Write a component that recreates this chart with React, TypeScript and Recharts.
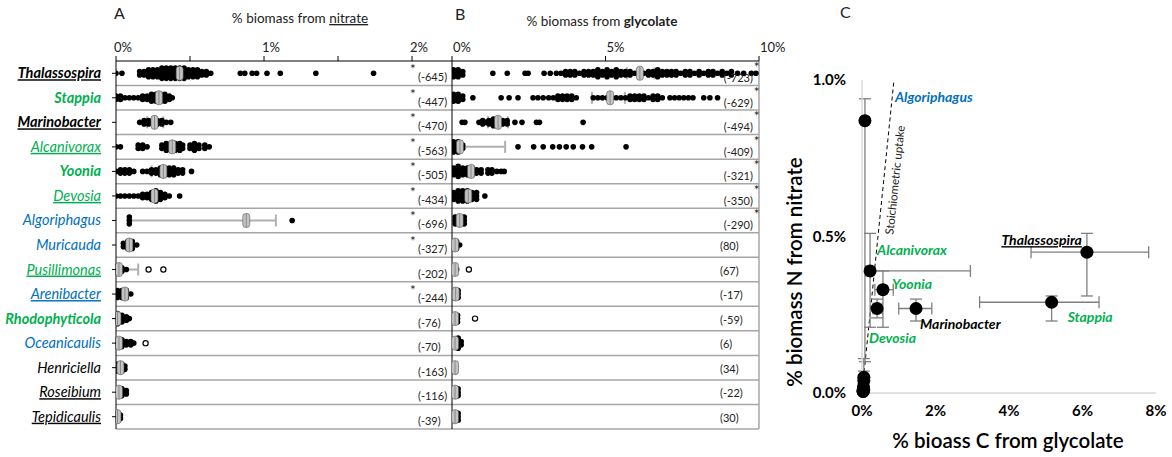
import React from "react";
import { ScatterChart, Scatter, XAxis, YAxis, ErrorBar, ReferenceLine, ReferenceDot } from "recharts";

const GREEN = "#00b050";
const BLUE = "#0070c0";
const FONT = "Lato, 'Open Sans', sans-serif";

// rows, top to bottom
const species = [
  "Thalassospira", "Stappia", "Marinobacter", "Alcanivorax", "Yoonia", "Devosia", "Algoriphagus",
  "Muricauda", "Pusillimonas", "Arenibacter", "Rhodophyticola", "Oceanicaulis", "Henriciella",
  "Roseibium", "Tepidicaulis",
];
const speciesColor = ["#000", GREEN, "#000", GREEN, GREEN, GREEN, BLUE, BLUE, GREEN, BLUE, GREEN, BLUE, "#000", "#000", "#000"];
const speciesBold = [1, 1, 1, 0, 1, 0, 0, 0, 0, 0, 1, 0, 0, 0, 0];
const speciesUnderline = [1, 0, 1, 1, 0, 1, 0, 0, 1, 1, 0, 0, 0, 1, 1];

// % biomass from nitrate, single cells: [value %, cells stacked at that value]
const nitrateSwarm: [number, number][][] = [
  [[0, 1], [0.04, 1], [0.16, 2], [0.19, 2], [0.22, 3], [0.25, 3], [0.28, 3], [0.31, 4], [0.34, 4], [0.37, 4], [0.4, 4], [0.43, 4], [0.46, 4], [0.49, 3], [0.52, 3], [0.55, 3], [0.58, 2], [0.61, 2], [0.64, 1], [0.84, 1], [0.87, 1], [0.92, 1], [0.95, 1], [1.02, 1], [1.11, 1], [1.35, 1], [1.74, 1]],
  [[0, 2], [0.03, 2], [0.06, 1], [0.09, 1], [0.12, 1], [0.15, 1], [0.18, 2], [0.21, 2], [0.24, 3], [0.27, 3], [0.3, 3], [0.33, 3], [0.36, 2], [0.38, 1]],
  [[0.16, 1], [0.19, 2], [0.22, 2], [0.25, 2], [0.28, 2], [0.31, 2], [0.34, 1], [0.37, 1]],
  [[0, 1], [0.03, 1], [0.15, 2], [0.18, 2], [0.21, 1], [0.31, 2], [0.34, 3], [0.37, 3], [0.4, 3], [0.43, 3], [0.45, 2], [0.5, 2], [0.53, 3], [0.56, 2], [0.6, 2], [0.63, 1]],
  [[0, 1], [0.03, 2], [0.06, 2], [0.09, 2], [0.12, 1], [0.18, 1], [0.21, 1], [0.24, 2], [0.27, 2], [0.3, 3], [0.33, 3], [0.36, 3], [0.39, 3], [0.42, 2], [0.45, 2], [0.51, 1]],
  [[0, 1], [0.03, 1], [0.06, 1], [0.09, 1], [0.12, 1], [0.15, 1], [0.18, 2], [0.21, 2], [0.24, 3], [0.27, 4], [0.3, 3], [0.33, 2], [0.36, 1], [0.43, 1]],
  [[0.09, 3], [0.88, 3], [1.19, 1]],
  [[0.05, 2], [0.08, 3], [0.11, 3], [0.14, 1]],
  [[0.01, 3], [0.04, 2], [0.07, 1]],
  [[0.01, 3], [0.04, 3], [0.07, 3], [0.1, 1]],
  [[0.01, 4], [0.04, 3], [0.07, 2], [0.09, 1]],
  [[0.01, 3], [0.04, 3], [0.07, 2], [0.1, 2], [0.12, 1]],
  [[0.01, 3], [0.04, 3], [0.06, 2]],
  [[0.01, 3], [0.04, 3], [0.07, 2]],
  [[0.01, 3], [0.03, 2]],
];
const nitrateOutliers: number[][] = [[], [], [], [], [], [], [], [], [0.22, 0.32], [], [], [0.2], [], [], []];
const nitrateMid = [0.43, 0.29, 0.26, 0.38, 0.32, 0.26, 0.88, 0.09, 0.02, 0.06, 0.01, 0.02, 0.03, 0.02, 0.01];
const nitrateLow = [0.4, 0.27, 0.21, 0.33, 0.24, 0.24, 0.09, 0.07, 0, 0.04, 0, 0, 0.01, 0.01, 0];
const nitrateHigh = [0.47, 0.31, 0.32, 0.44, 0.39, 0.29, 1.08, 0.11, 0.15, 0.08, 0.02, 0.04, 0.05, 0.04, 0.02];
const nitrateScore = [-645, -447, -470, -563, -505, -434, -696, -327, -202, -244, -76, -70, -163, -116, -39];
const nitrateSig = [1, 1, 1, 1, 1, 1, 1, 1, 0, 1, 0, 0, 0, 0, 0];

// % biomass from glycolate
const glycolateSwarm: [number, number][][] = [
  [[0.05, 3], [0.2, 3], [0.35, 2], [1.33, 1], [1.8, 1], [2.38, 1], [2.48, 1], [3.0, 1], [3.2, 1], [3.4, 1], [3.55, 1], [3.7, 2], [3.85, 2], [4.0, 2], [4.15, 1], [4.3, 2], [4.45, 2], [4.6, 2], [4.75, 3], [4.9, 2], [5.05, 3], [5.2, 2], [5.35, 3], [5.5, 2], [5.65, 2], [5.8, 2], [5.95, 1], [6.1, 2], [6.25, 1], [6.4, 2], [6.55, 2], [6.7, 3], [6.85, 2], [7.0, 2], [7.15, 2], [7.3, 2], [7.45, 1], [7.6, 2], [7.75, 2], [7.9, 1], [8.05, 2], [8.2, 1], [8.35, 2], [8.5, 2], [8.65, 1], [8.8, 2], [8.95, 1], [9.1, 2], [9.3, 1], [9.5, 1], [9.75, 1], [9.9, 1]],
  [[0.05, 3], [0.2, 3], [0.35, 2], [0.68, 1], [1.6, 1], [1.86, 1], [2.15, 1], [2.64, 1], [2.8, 1], [2.97, 1], [3.15, 1], [3.3, 1], [3.45, 2], [3.6, 2], [3.75, 2], [3.9, 2], [4.05, 1], [4.6, 1], [4.75, 1], [4.9, 1], [5.05, 1], [5.2, 1], [5.35, 1], [5.5, 1], [5.65, 1], [5.8, 2], [5.95, 2], [6.1, 2], [6.25, 2], [6.4, 1], [6.55, 2], [6.7, 2], [6.85, 1], [7.1, 1], [7.25, 1], [7.4, 1], [7.55, 1], [7.7, 1], [7.85, 1], [8.2, 1], [8.4, 1], [8.65, 1]],
  [[0.33, 1], [0.42, 1], [0.88, 1], [1.0, 2], [1.1, 1], [1.2, 2], [1.35, 3], [1.5, 3], [1.65, 2], [1.8, 2], [2.05, 1], [2.28, 1], [2.75, 1], [2.85, 1], [4.27, 1]],
  [[0.05, 4], [0.2, 4], [0.35, 2], [2.15, 1], [2.66, 1], [2.97, 1], [3.28, 1], [3.5, 1], [3.72, 1], [3.95, 1], [4.25, 1], [4.55, 1], [5.67, 1]],
  [[0.05, 3], [0.2, 4], [0.35, 3], [0.5, 3], [0.65, 3], [0.8, 2], [0.95, 2], [1.17, 2], [1.3, 2], [1.46, 1], [1.6, 1], [1.7, 1]],
  [[0.05, 3], [0.2, 4], [0.35, 4], [0.5, 4], [0.65, 3], [0.8, 3], [1.07, 1]],
  [[0.1, 3], [0.25, 3], [0.4, 3]],
  [[0.02, 3], [0.15, 3], [0.25, 1]],
  [[0.05, 2], [0.15, 1]],
  [[0.05, 3], [0.2, 3]],
  [[0.02, 3], [0.18, 3]],
  [[0.05, 3], [0.2, 4], [0.3, 2]],
  [[0.1, 2]],
  [[0.05, 3], [0.2, 3]],
  [[0.05, 3], [0.2, 3]],
];
const glycolateOutliers: number[][] = [[], [], [], [], [], [], [], [], [0.55], [], [0.75], [], [], [], []];
const glycolateMid = [6.12, 5.15, 1.5, 0.26, 0.62, 0.53, 0.25, 0.1, 0.1, 0.12, 0.1, 0.1, 0.1, 0.1, 0.1];
const glycolateLow = [5.7, 4.56, 1.17, 0.05, 0.5, 0.45, 0.15, 0.05, 0.05, 0.05, 0.05, 0.05, 0.05, 0.05, 0.05];
const glycolateHigh = [6.6, 5.63, 1.82, 1.73, 0.72, 0.6, 0.35, 0.15, 0.15, 0.2, 0.15, 0.15, 0.15, 0.15, 0.15];
const glycolateScore = [-723, -629, -494, -409, -321, -350, -290, 80, 67, -17, -59, 6, 34, -22, 30];
const glycolateSig = [1, 1, 1, 1, 1, 1, 1, 0, 0, 0, 0, 0, 0, 0, 0];

// panel C: mean uptake with ranges
const uptakeNames = ["Algoriphagus", "Alcanivorax", "Yoonia", "Devosia", "Marinobacter", "Stappia", "Thalassospira", "Muricauda", "Pusillimonas", "Arenibacter", "Rhodophyticola", "Oceanicaulis", "Henriciella", "Roseibium", "Tepidicaulis"];
const carbonMean = [0.08, 0.22, 0.57, 0.41, 1.47, 5.16, 6.12, 0.05, 0.05, 0.04, 0.03, 0.05, 0.03, 0.04, 0.03];
const carbonLow = [0.08, 0.1, 0.35, 0.3, 1.0, 3.2, 4.6, 0.03, 0.03, 0.02, 0.02, 0.03, 0.02, 0.02, 0.02];
const carbonHigh = [0.08, 2.95, 0.85, 0.55, 1.9, 6.45, 7.8, 0.07, 0.07, 0.06, 0.05, 0.07, 0.05, 0.06, 0.05];
const nitrogenMean = [0.87, 0.39, 0.33, 0.27, 0.27, 0.29, 0.45, 0.05, 0.04, 0.02, 0.01, 0.01, 0.005, 0.01, 0.005];
const nitrogenLow = [0.1, 0.21, 0.21, 0.24, 0.23, 0.23, 0.31, 0.02, 0.02, 0.01, 0, 0, 0, 0, 0];
const nitrogenHigh = [0.94, 0.51, 0.39, 0.3, 0.3, 0.31, 0.51, 0.11, 0.07, 0.03, 0.02, 0.02, 0.01, 0.02, 0.01];
const stoichiometricLine = [{ x: 0, y: 0 }, { x: 0.87, y: 1 }];

// label placement in panel C (px offset from point, anchor, colour, underline)
const uptakeLabel: Record<string, [number, number, "start" | "end", string, boolean]> = {
  Algoriphagus: [30, -19, "start", BLUE, false],
  Alcanivorax: [7, -16, "start", GREEN, false],
  Yoonia: [9, -1, "start", GREEN, false],
  Devosia: [-8, 35, "start", GREEN, false],
  Marinobacter: [4, 21, "start", "#000", false],
  Stappia: [16, 20, "start", GREEN, false],
  Thalassospira: [-5, -7, "end", "#000", true],
};

const rows = species.map((_, i) => i + 1);
const swarm = (bins: [number, number][][]) => bins.flatMap((r, i) => r.map(([x, n]) => ({ x, y: i + 1, n })));
const outliers = (v: number[][]) => v.flatMap((r, i) => r.map((x) => ({ x, y: i + 1 })));
const summary = (m: number[], lo: number[], hi: number[]) => m.map((x, i) => ({ x, y: i + 1, e: [x - lo[i], hi[i] - x] }));

const SwarmShape = (p: any) => {
  const n = p.payload?.n ?? 1;
  const dots = [];
  for (let k = 0; k < n; k++) dots.push(<circle key={k} cx={p.cx} cy={p.cy + (k - (n - 1) / 2) * 3.4} r={2.8} fill="#000" />);
  return <g>{dots}</g>;
};
const OpenShape = (p: any) => <circle cx={p.cx} cy={p.cy} r={2.6} fill="#fff" stroke="#000" strokeWidth={1.2} />;
const SummaryShape = (p: any) => (
  <g>
    <rect x={p.cx - 3.5} y={p.cy - 7} width={7} height={14} rx={3} fill="#c4c4c4" stroke="#555" strokeWidth={0.6} />
    <line x1={p.cx} x2={p.cx} y1={p.cy - 7} y2={p.cy + 7} stroke="#888" strokeWidth={1} />
  </g>
);

const SpeciesTick = (p: any) => {
  const i = p.payload.value - 1;
  if (i < 0 || i >= species.length) return null;
  return (
    <text x={p.x} y={p.y + 5} textAnchor="end" fontFamily={FONT} fontSize={14.5} fontStyle="italic"
      fontWeight={speciesBold[i] ? 700 : 400} fill={speciesColor[i]}
      textDecoration={speciesUnderline[i] ? "underline" : undefined}>
      {species[i]}
    </text>
  );
};

const nitrateNotes = nitrateScore.map((v, i) => ({ x: 2.04, y: i + 1, v, sig: nitrateSig[i] }));
const glycolateNotes = glycolateScore.map((v, i) => ({ x: glycolateSig[i] ? 9.8 : 8.73, y: i + 1, v, sig: glycolateSig[i] }));

const NitrateNote = (p: any) => (
  <g fontFamily={FONT} fill="#222">
    {p.payload.sig ? <text x={p.cx - 5} y={p.cy + 1} fontSize={13.5} textAnchor="middle">*</text> : null}
    <text x={p.cx} y={p.cy + 8} fontSize={11}>({p.payload.v})</text>
  </g>
);
const GlycolateNote = (p: any) => (
  <g fontFamily={FONT} fill="#222">
    {p.payload.sig ? <text x={p.cx + 1} y={p.cy - 1} fontSize={13.5}>*</text> : null}
    <text x={p.cx} y={p.cy + (p.payload.sig ? 9 : 5)} fontSize={11} textAnchor={p.payload.sig ? "end" : "start"}>({p.payload.v})</text>
  </g>
);

const PctTick = (dx: number, every: number) => (p: any) => {
  const v = p.payload.value;
  if (v % every !== 0) return null;
  return <text x={p.x + dx} y={p.y} textAnchor="start" fontFamily={FONT} fontSize={13} fill="#222">{v}%</text>;
};

const Separators = (xEnd?: number) => [
  ...rows.slice(1).map((r) => <ReferenceLine key={"s" + r} y={r - 0.5} stroke="#a6a6a6" strokeWidth={1.5} />),
  <ReferenceLine key="bottom" y={15.5} stroke="#a6a6a6" strokeWidth={1.5} />,
  ...(xEnd ? [<ReferenceLine key="right" x={xEnd} stroke="#a6a6a6" strokeWidth={1.5} />] : []),
];

const UptakePoint = (p: any) => {
  const lab = uptakeLabel[p.payload.name];
  return (
    <g>
      <circle cx={p.cx} cy={p.cy} r={6.5} fill="#000" />
      {lab ? (
        <text x={p.cx + lab[0]} y={p.cy + lab[1]} textAnchor={lab[2]} fill={lab[3]} fontFamily={FONT} fontSize={14}
          fontStyle="italic" fontWeight={700} textDecoration={lab[4] ? "underline" : undefined}>
          {p.payload.name}
        </text>
      ) : null}
    </g>
  );
};

const uptakeData = uptakeNames.map((name, i) => ({
  name,
  x: carbonMean[i],
  y: nitrogenMean[i],
  ex: [carbonMean[i] - carbonLow[i], carbonHigh[i] - carbonMean[i]],
  ey: [nitrogenMean[i] - nitrogenLow[i], nitrogenHigh[i] - nitrogenMean[i]],
}));

export default function App() {
  return (
    <div style={{ position: "absolute", left: 0, top: 0, width: 1172, height: 457, background: "#fff", fontFamily: FONT }}>
      <div style={{ position: "absolute", left: 0, top: 0 }}>
        <ScatterChart width={460} height={457} margin={{ top: 0, right: 8, bottom: 28, left: 0 }}>
          <XAxis type="number" dataKey="x" orientation="top" height={61} domain={[0, 2.27]} allowDataOverflow
            ticks={[0, 0.5, 1, 1.5, 2]} interval={0} tickSize={5} tickMargin={4} stroke="#000" tick={PctTick(-2, 1)} />
          <YAxis type="number" dataKey="y" width={116} domain={[0.5, 15.5]} reversed allowDataOverflow
            ticks={rows} interval={0} tickSize={4} tickMargin={11} stroke="#000" tick={SpeciesTick} />
          {Separators()}
          <Scatter data={swarm(nitrateSwarm)} shape={SwarmShape} isAnimationActive={false} />
          <Scatter data={outliers(nitrateOutliers)} shape={OpenShape} isAnimationActive={false} />
          <Scatter data={summary(nitrateMid, nitrateLow, nitrateHigh)} shape={SummaryShape} isAnimationActive={false}>
            <ErrorBar dataKey="e" direction="x" width={6} stroke="#b0b0b0" strokeWidth={2} />
          </Scatter>
          <Scatter data={nitrateNotes} shape={NitrateNote} isAnimationActive={false} />
        </ScatterChart>
      </div>
      <div style={{ position: "absolute", left: 440, top: 0 }}>
        <ScatterChart width={346} height={457} margin={{ top: 0, right: 27, bottom: 28, left: 0 }}>
          <XAxis type="number" dataKey="x" orientation="top" height={61} domain={[0, 10]} allowDataOverflow
            ticks={[0, 5, 10]} interval={0} tickSize={5} tickMargin={4} stroke="#000" tick={PctTick(1, 5)} />
          <YAxis type="number" dataKey="y" width={12} domain={[0.5, 15.5]} reversed allowDataOverflow
            ticks={rows} interval={0} tickSize={5} stroke="#000" tick={false} />
          {Separators(10)}
          <Scatter data={swarm(glycolateSwarm)} shape={SwarmShape} isAnimationActive={false} />
          <Scatter data={outliers(glycolateOutliers)} shape={OpenShape} isAnimationActive={false} />
          <Scatter data={summary(glycolateMid, glycolateLow, glycolateHigh)} shape={SummaryShape} isAnimationActive={false}>
            <ErrorBar dataKey="e" direction="x" width={6} stroke="#b0b0b0" strokeWidth={2} />
          </Scatter>
          <Scatter data={glycolateNotes} shape={GlycolateNote} isAnimationActive={false} />
        </ScatterChart>
      </div>
      <div style={{ position: "absolute", left: 780, top: 0 }}>
        <ScatterChart width={392} height={457} margin={{ top: 80, right: 16, bottom: 0, left: 0 }}>
          <XAxis type="number" dataKey="x" height={64} domain={[0, 8]} ticks={[0, 2, 4, 6, 8]} interval={0}
            tickFormatter={(v) => `${v}%`} axisLine={{ stroke: "#d9d9d9", strokeWidth: 1.5 }} tickLine={false} tickMargin={6}
            tick={{ fill: "#000", fontSize: 15, fontWeight: 700, fontFamily: FONT }} />
          <YAxis type="number" dataKey="y" width={82} domain={[0, 1]} ticks={[0, 0.5, 1]} interval={0}
            tickFormatter={(v) => `${Number(v).toFixed(1)}%`} axisLine={{ stroke: "#d9d9d9", strokeWidth: 1.5 }} tickLine={false} tickMargin={10}
            tick={{ fill: "#000", fontSize: 15, fontWeight: 700, fontFamily: FONT }} />
          <ReferenceLine segment={stoichiometricLine} stroke="#000" strokeDasharray="4 3" strokeWidth={1} />
          <ReferenceDot x={0.93} y={0.68} r={0} shape={(p: any) => (
            <text x={p.cx} y={p.cy} textAnchor="middle" dominantBaseline="middle" fontFamily={FONT} fontSize={11.5} fill="#222"
              transform={`rotate(-84, ${p.cx}, ${p.cy})`}>Stoichiometric uptake</text>
          )} />
          <Scatter data={uptakeData} shape={UptakePoint} isAnimationActive={false}>
            <ErrorBar dataKey="ex" direction="x" width={6} stroke="#7f7f7f" strokeWidth={1.3} />
            <ErrorBar dataKey="ey" direction="y" width={6} stroke="#7f7f7f" strokeWidth={1.3} />
          </Scatter>
        </ScatterChart>
      </div>
      <svg width={1172} height={457} style={{ position: "absolute", left: 0, top: 0, pointerEvents: "none" }} fontFamily={FONT}>
        <text x={114} y={19} fontSize={16} fill="#222">A</text>
        <text x={300} y={23} fontSize={13.5} textAnchor="middle" fill="#222">
          % biomass from <tspan textDecoration="underline">nitrate</tspan>
        </text>
        <text x={455} y={20} fontSize={16} fill="#222">B</text>
        <text x={602} y={26} fontSize={13.5} textAnchor="middle" fill="#222">
          % biomass from <tspan fontWeight={700}>glycolate</tspan>
        </text>
        <text x={840} y={18} fontSize={16} fill="#222">C</text>
        <text x={797} y={272} fontSize={20.5} fontWeight={600} textAnchor="middle" dominantBaseline="middle"
          transform="rotate(-90, 797, 272)">% biomass N from nitrate</text>
        <text x={1008} y={448} fontSize={20.5} fontWeight={600} textAnchor="middle">% bioass C from glycolate</text>
      </svg>
    </div>
  );
}
